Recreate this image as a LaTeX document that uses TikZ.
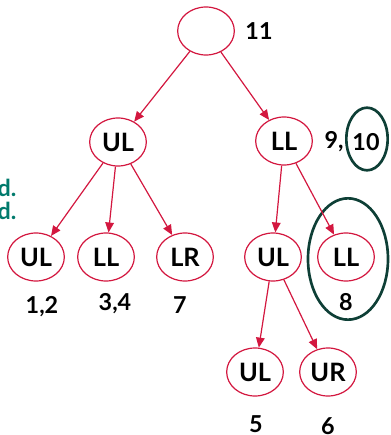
\documentclass[tikz,border=0pt]{standalone}
\usepackage{fontspec}
\setsansfont{Lato}
\usetikzlibrary{shapes.geometric,arrows.meta}
\definecolor{treered}{HTML}{D3173F}
\definecolor{ringgreen}{HTML}{0E3F36}
\definecolor{noteteal}{HTML}{007A6C}
\begin{document}
\begin{tikzpicture}[x=0.75pt,y=-0.75pt,
  tree node/.style={ellipse,draw=treered,line width=0.9pt,minimum width=42.5pt,minimum height=36pt,inner sep=0pt,font=\sffamily\bfseries\fontsize{19}{19}\selectfont},
  ring/.style={ellipse,draw=ringgreen,line width=2pt,inner sep=0pt},
  count/.style={font=\sffamily\bfseries\fontsize{17.5}{17.5}\selectfont},
  every edge/.style={draw=treered,line width=0.9pt,-{Triangle[length=7.5pt,width=6.5pt]}}]
\useasboundingbox (0,0) rectangle (390,435);
\begin{scope}
\node[tree node] (root) at (206,31) {};
\node[tree node] (ul) at (118,142) {UL};
\node[tree node] (ll) at (284,141) {LL};
\node[tree node] (ulul) at (36,257) {UL};
\node[tree node] (ulll) at (106,257) {LL};
\node[tree node] (ullr) at (185,257) {LR};
\node[tree node] (llul) at (273,257) {UL};
\node[tree node] (llll) at (346,257) {LL};
\node[tree node] (llulul) at (255,372) {UL};
\node[tree node] (llulur) at (328,372) {UR};
% groups circled by hand
\node[ring,minimum width=60pt,minimum height=91pt] (ring8) at (348,259) {};
\node[ring,minimum width=31pt,minimum height=47pt] (ring10) at (367,139) {};
\end{scope}
\begin{scope}[every node/.style={count}]
\node (n11) at (259,31) {11};
\node (n9) at (334,142) {9,};
\node (n10) at (366,142) {10};
\node (n12) at (42,307) {1,2};
\node (n34) at (115,304) {3,4};
\node (n7) at (180,305) {7};
\node (n8) at (346,302) {8};
\node (n5) at (256,424) {5};
\node (n6) at (328,426) {6};
\node[text=noteteal,anchor=east] (d1) at (21,188) {d.};
\node[text=noteteal,anchor=east] (d2) at (21,211) {d.};
\end{scope}
\begin{scope}
\draw (root) edge (ul);
\draw (root) edge (ll);
\draw (ul) edge (ulul);
\draw (ul) edge (ulll);
\draw (ul) edge (ullr);
\draw (ll) edge (llul);
\draw (ll) edge (llll);
\draw (llul) edge (llulul);
\draw (llul) edge (llulur);
\end{scope}
\end{tikzpicture}
\end{document}
